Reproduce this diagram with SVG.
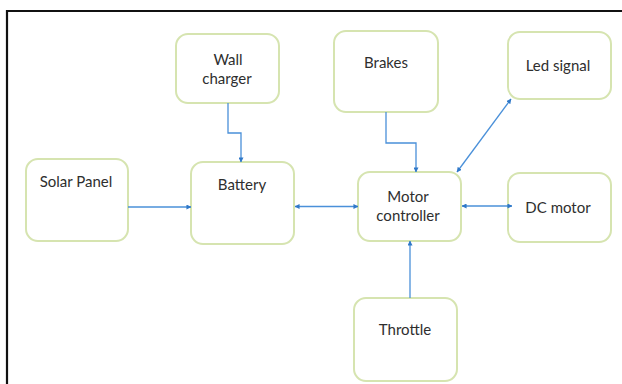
<svg xmlns="http://www.w3.org/2000/svg" width="622" height="384" viewBox="0 0 622 384">
<style>
.box{fill:#ffffff;stroke:#d6e4b0;stroke-width:2}
.t{font-family:"Lato","Open Sans","Liberation Sans",sans-serif;font-size:15px;fill:#2e2e2e;text-anchor:middle}
.c{fill:none;stroke:#4a90d9;stroke-width:1.3}
</style>
<defs>
<marker id="ah" viewBox="0 0 6 6" refX="5.5" refY="3" markerWidth="5" markerHeight="5" orient="auto-start-reverse" markerUnits="userSpaceOnUse">
<path d="M0,0 L6,3 L0,6 z" fill="#2f78c8"/>
</marker>
</defs>
<rect x="0" y="0" width="622" height="384" fill="#ffffff"/>
<g id="frame">
<line x1="6" y1="11" x2="622" y2="11" stroke="#111" stroke-width="2.2"/>
<line x1="7" y1="10" x2="7" y2="384" stroke="#111" stroke-width="2.2"/>
</g>
<g id="wall-charger">
<rect class="box" x="176" y="34" width="103" height="69" rx="12"/>
<text class="t" x="228" y="65">Wall</text>
<text class="t" x="227" y="84">charger</text>
</g>
<g id="solar-panel">
<rect class="box" x="26" y="159" width="102" height="82" rx="12"/>
<text class="t" x="76" y="187">Solar Panel</text>
</g>
<g id="battery">
<rect class="box" x="191" y="162" width="103" height="82" rx="12"/>
<text class="t" x="242" y="190">Battery</text>
</g>
<g id="brakes">
<rect class="box" x="334" y="31" width="104" height="81" rx="12"/>
<text class="t" x="386" y="68">Brakes</text>
</g>
<g id="led-signal">
<rect class="box" x="508" y="32" width="103" height="67" rx="12"/>
<text class="t" x="558" y="71">Led signal</text>
</g>
<g id="motor-controller">
<rect class="box" x="358" y="172" width="103" height="69" rx="12"/>
<text class="t" x="408" y="202">Motor</text>
<text class="t" x="408" y="221">controller</text>
</g>
<g id="dc-motor">
<rect class="box" x="508" y="173" width="103" height="69" rx="12"/>
<text class="t" x="558" y="213">DC motor</text>
</g>
<g id="throttle">
<rect class="box" x="354" y="298" width="103" height="83" rx="12"/>
<text class="t" x="405" y="335">Throttle</text>
</g>
<g id="connectors">
<polyline class="c" points="228,103 228,133 241,133 241,162" marker-end="url(#ah)"/>
<line class="c" x1="128" y1="207" x2="191" y2="207" marker-end="url(#ah)"/>
<line class="c" x1="295" y1="206.5" x2="358" y2="206.5" marker-start="url(#ah)" marker-end="url(#ah)"/>
<polyline class="c" points="386,112 386,143 416,143 416,172" marker-end="url(#ah)"/>
<line class="c" x1="457" y1="172" x2="511" y2="99" marker-start="url(#ah)" marker-end="url(#ah)"/>
<line class="c" x1="462" y1="206" x2="512" y2="206" marker-start="url(#ah)" marker-end="url(#ah)"/>
<line class="c" x1="410" y1="298" x2="410" y2="241" marker-end="url(#ah)"/>
</g>
</svg>
